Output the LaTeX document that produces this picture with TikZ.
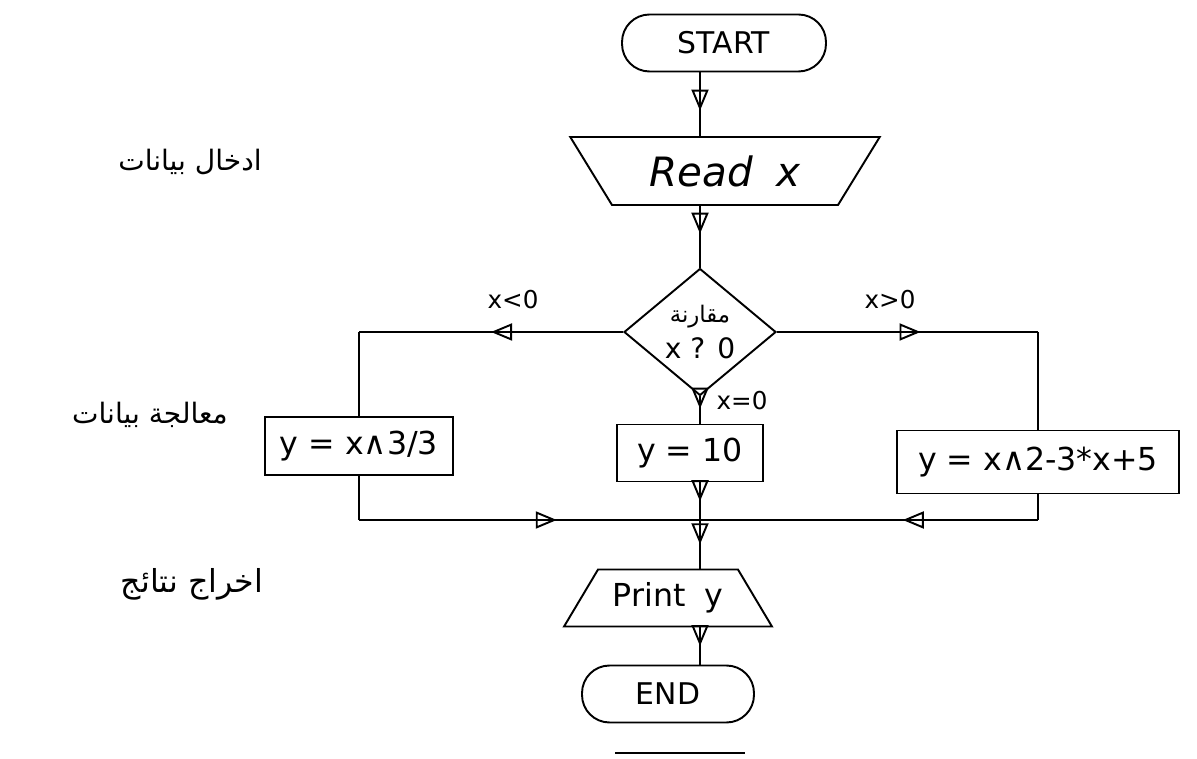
\documentclass[tikz,border=0pt]{standalone}
\usepackage{fontspec}
\setmainfont{DejaVu Sans}
\newfontfamily\arabicfont[Script=Arabic]{DejaVu Sans}
\TeXXeTstate=1
\usetikzlibrary{arrows.meta, shapes.geometric, decorations.markings}

\begin{document}
\begin{tikzpicture}[
            x=0.02cm, y=-0.02cm,
            line width=1.1pt,
            termbox/.style={
                draw,
                rounded corners=0.55cm,
                minimum height=1.14cm,
                font=\fontsize{17}{19}\selectfont
            },
            iobox/.style={
                draw,
                trapezium,
                trapezium stretches=true,
                trapezium left angle=55,
                trapezium right angle=55,
                font=\fontsize{18}{20}\selectfont
            },
            procbox/.style={
                draw,
                minimum height=1.16cm,
                font=\fontsize{18}{20}\selectfont
            },
            decide/.style={
                draw,
                diamond,
                aspect=1.2,
                inner sep=0pt,
                align=center,
                minimum width=3.04cm,
                minimum height=2.54cm,
                font=\fontsize{16}{18}\selectfont
            },
            cond/.style={font=\fontsize{14}{16}\selectfont},
            side/.style={font=\arabicfont\fontsize{16}{18}\selectfont},
            midarrow/.style={postaction={decorate, decoration={markings,
                mark=at position #1 with {\arrow{Triangle[open, length=4.2mm, width=3.4mm]}}}}}
        ]
            \useasboundingbox (0,0) rectangle (1197,759);

            % flow boxes
            \node[termbox, minimum width=4.08cm] (start) at (724,43) {START};
            \node[iobox, shape border rotate=180, minimum width=6.2cm, minimum height=1.36cm,
                  font=\fontsize{23}{25}\selectfont\itshape] (read) at (725,171) {Read\; x};
            \node[decide] (cmp) at (700,332)
                {{\arabicfont\fontsize{13}{15}\selectfont\beginR مقارنة\endR}\\[2pt]x ? 0};
            \node[procbox, minimum width=3.76cm] (lbox) at (359,446) {y = x∧3/3};
            \node[procbox, minimum width=2.92cm, minimum height=1.14cm] (mbox) at (690,453) {y = 10};
            \node[procbox, minimum width=5.64cm, minimum height=1.26cm] (rbox) at (1038,462) {y = x∧2-3*x+5};
            \coordinate (join) at (700,520);
            \node[iobox, minimum width=4.16cm, minimum height=1.14cm] (print) at (668,598) {Print\; y};
            \node[termbox, minimum width=3.44cm] (end) at (668,694) {END};

            % side captions
            \node[side] (inlabel) at (190,162) {\beginR ادخال بيانات\endR};
            \node[side] (proclabel) at (150,415) {\beginR معالجة بيانات\endR};
            \node[side, font=\arabicfont\fontsize{18}{20}\selectfont] (outlabel) at (192,584) {\beginR اخراج نتائج\endR};

            % branch labels
            \node[cond] (neg) at (513,300) {x<0};
            \node[cond] (pos) at (890,300) {x>0};
            \node[cond] (zero) at (742,401) {x=0};

            % main column
            \draw[midarrow=0.6] (start.south -| cmp.north) -- (read.north -| cmp.north);
            \draw[midarrow=0.45] (read.south -| cmp.north) -- (cmp.north);
            \draw[midarrow=0.45] (cmp.south) -- (cmp.south |- mbox.north);
            \draw[midarrow=0.5] (mbox.south -| join) -- (join);
            \draw[midarrow=0.5] (join) -- (join |- print.north);
            \draw[midarrow=0.5] (print.south -| join) -- (end.north -| join);

            % left branch
            \draw[midarrow=0.5] (cmp.west) -- (cmp.west -| lbox.north);
            \draw (cmp.west -| lbox.north) -- (lbox.north);
            \draw (lbox.south) -- (lbox.south |- join);
            \draw[midarrow=0.58] (lbox.south |- join) -- (join);

            % right branch
            \draw[midarrow=0.55] (cmp.east) -- (cmp.east -| rbox.north);
            \draw (cmp.east -| rbox.north) -- (rbox.north);
            \draw (rbox.south) -- (rbox.south |- join);
            \draw[midarrow=0.4] (rbox.south |- join) -- (join);

            % rule under END
            \draw ([xshift=-1.06cm, yshift=-0.6cm]end.south) -- ([xshift=1.54cm, yshift=-0.6cm]end.south);
        \end{tikzpicture}
\end{document}
